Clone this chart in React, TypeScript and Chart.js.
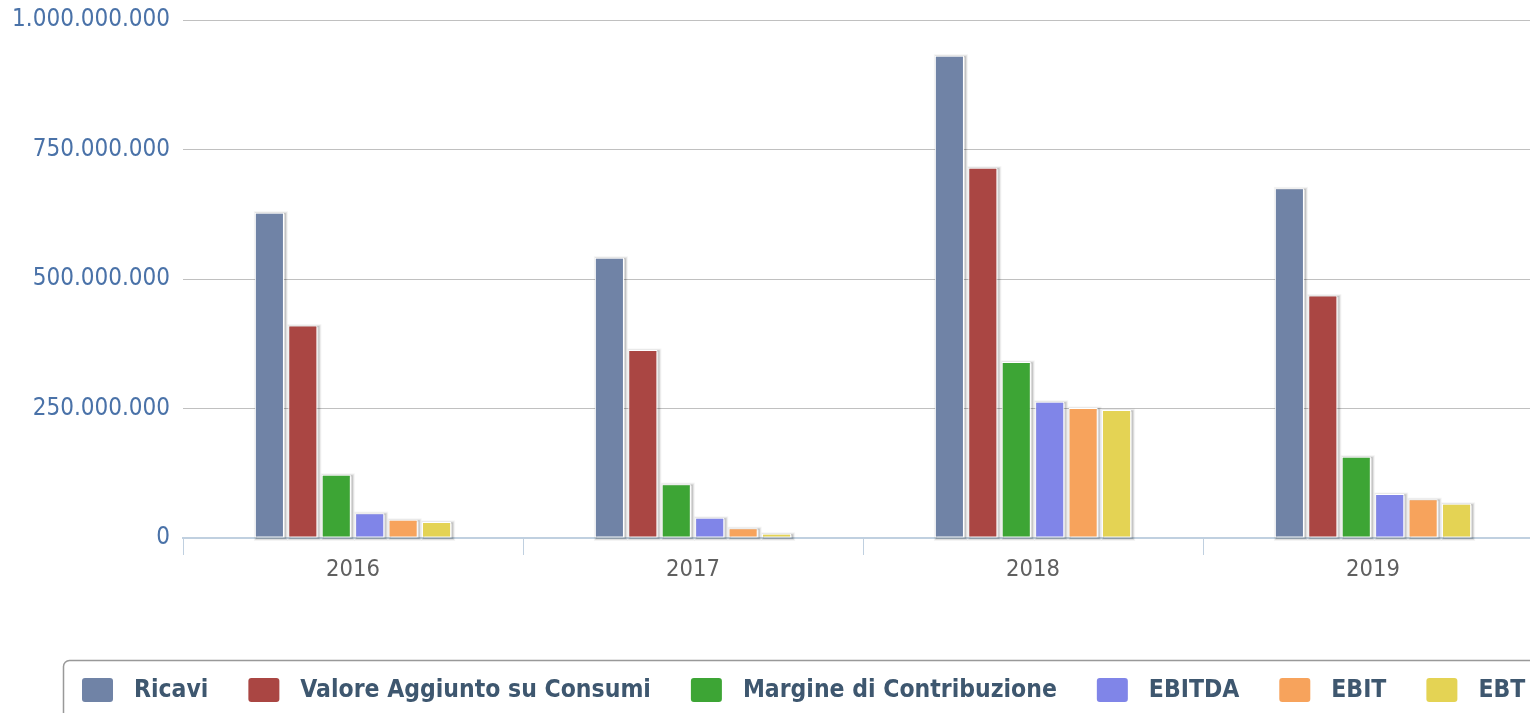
import React, { useEffect, useRef } from 'react';
import { Chart, registerables } from 'chart.js';

Chart.register(...registerables);

const categories = ['2016', '2017', '2018', '2019'];
const seriesNames = [
  'Ricavi',
  'Valore Aggiunto su Consumi',
  'Margine di Contribuzione',
  'EBITDA',
  'EBIT',
  'EBT',
];
const ricavi = [628e6, 541e6, 931e6, 675e6];
const valoreAggiunto = [410e6, 363e6, 715e6, 468e6];
const margineContribuzione = [122e6, 104e6, 340e6, 157e6];
const ebitda = [48e6, 39e6, 263e6, 85e6];
const ebit = [35e6, 19e6, 251e6, 75e6];
const ebt = [31e6, 8e6, 247e6, 66e6];
const seriesColors = ['#7083A6', '#AA4643', '#3DA535', '#8085E8', '#F7A35C', '#E4D354'];
const yMax = 1000000000;
const yStep = 250000000;

const formatIt = (v: number) =>
  String(Math.round(v)).replace(/\B(?=(\d{3})+(?!\d))/g, '.');

const FONT = '"DejaVu Sans Condensed", "DejaVu Sans", Verdana, sans-serif';

function roundRectPath(ctx: CanvasRenderingContext2D, x: number, y: number, w: number, h: number, r: number) {
  ctx.beginPath();
  ctx.moveTo(x + r, y);
  ctx.lineTo(x + w - r, y);
  ctx.arcTo(x + w, y, x + w, y + r, r);
  ctx.lineTo(x + w, y + h - r);
  ctx.arcTo(x + w, y + h, x + w - r, y + h, r);
  ctx.lineTo(x + r, y + h);
  ctx.arcTo(x, y + h, x, y + h - r, r);
  ctx.lineTo(x, y + r);
  ctx.arcTo(x, y, x + r, y, r);
  ctx.closePath();
}

const shadowPlugin = {
  id: 'barShadow',
  beforeDatasetsDraw(chart: any) {
    const ctx = chart.ctx as CanvasRenderingContext2D;
    ctx.save();
    chart.data.datasets.forEach((_: any, di: number) => {
      const meta = chart.getDatasetMeta(di);
      meta.data.forEach((el: any) => {
        const p = el.getProps(['x', 'y', 'base', 'width'], true);
        const left = p.x - p.width / 2;
        const top = Math.min(p.y, p.base);
        const h = Math.abs(p.base - p.y);
        for (let i = 1; i <= 3; i++) {
          ctx.strokeStyle = `rgba(0,0,0,${0.045 * i})`;
          ctx.lineWidth = 7 - 2 * i;
          ctx.strokeRect(left + 1.5, top + 1, p.width, h);
        }
      });
    });
    ctx.restore();
  },
};

const legendPlugin = {
  id: 'boxLegend',
  afterDraw(chart: any) {
    const ctx = chart.ctx as CanvasRenderingContext2D;
    const area = chart.chartArea;
    ctx.save();
    ctx.font = `bold 24.5px ${FONT}`;
    const swW = 31;
    const swH = 24;
    const gapText = 21;
    const gapItem = 40;
    const boxLeft = 55;
    const boxTop = area.bottom + 122;
    const boxH = 62;
    const startX = 74;
    const cy = boxTop + 30;
    const items = chart.data.datasets.map((ds: any) => ({
      label: ds.label as string,
      color: ds.backgroundColor as string,
    }));
    let total = 0;
    items.forEach((it: any, i: number) => {
      total += swW + gapText + ctx.measureText(it.label).width;
      if (i < items.length - 1) total += gapItem;
    });
    const boxRight = startX + total + 18;
    roundRectPath(ctx, boxLeft + 0.5, boxTop + 0.5, boxRight - boxLeft, boxH, 6);
    ctx.strokeStyle = '#999999';
    ctx.lineWidth = 1.5;
    ctx.stroke();
    let x = startX;
    ctx.textBaseline = 'middle';
    ctx.textAlign = 'left';
    items.forEach((it: any) => {
      roundRectPath(ctx, x, cy - swH / 2, swW, swH, 3);
      ctx.fillStyle = it.color;
      ctx.fill();
      ctx.fillStyle = '#3E576F';
      const tx = x + swW + gapText;
      ctx.fillText(it.label, tx, cy + 1);
      x = tx + ctx.measureText(it.label).width + gapItem;
    });
    ctx.restore();
  },
};

export default function App() {
  const canvasRef = useRef<HTMLCanvasElement | null>(null);

  useEffect(() => {
    if (!canvasRef.current) return;
    const values = [ricavi, valoreAggiunto, margineContribuzione, ebitda, ebit, ebt];
    const chart = new Chart(canvasRef.current, {
      type: 'bar',
      data: {
        labels: categories,
        datasets: seriesNames.map((name, i) => ({
          label: name,
          data: values[i],
          backgroundColor: seriesColors[i],
          borderColor: '#ffffff',
          borderWidth: 1,
          borderSkipped: false,
          categoryPercentage: 0.59,
          barPercentage: 0.87,
        })),
      },
      options: {
        responsive: true,
        maintainAspectRatio: false,
        animation: false,
        layout: { padding: { top: 12, right: 65, bottom: 150, left: 0 } },
        plugins: {
          legend: { display: false },
          tooltip: { enabled: false },
          title: { display: false },
        },
        scales: {
          x: {
            offset: true,
            grid: {
              display: true,
              drawOnChartArea: false,
              drawTicks: true,
              tickLength: 17,
              color: '#C0D0E0',
              lineWidth: 1,
              offset: true,
            },
            border: { display: true, color: '#C0D0E0', width: 2 },
            ticks: {
              color: '#606060',
              font: { family: FONT, size: 23.5 },
              padding: 1,
            },
            afterFit: (scale: any) => {
              scale.height = 60;
              scale.paddingLeft = 0;
              scale.paddingRight = 0;
            },
          },
          y: {
            min: 0,
            max: yMax,
            grid: {
              drawTicks: false,
              color: (c: any) => (c.index === 0 ? 'rgba(0,0,0,0)' : '#C0C0C0'),
              lineWidth: 1,
            },
            border: { display: false },
            ticks: {
              stepSize: yStep,
              color: '#4A72A8',
              font: { family: FONT, size: 24 },
              padding: 13,
              callback: (v: any) => formatIt(Number(v)),
            },
            afterFit: (scale: any) => {
              scale.width = 175;
              scale.paddingTop = 0;
              scale.paddingBottom = 0;
            },
          },
        },
      },
      plugins: [shadowPlugin, legendPlugin],
    });
    return () => chart.destroy();
  }, []);

  return (
    <div style={{ position: 'fixed', left: 0, top: 0, width: '100vw', height: '100vh', overflow: 'hidden', background: '#fff' }}>
      <div style={{ position: 'absolute', left: 8, top: 8, width: 1600, height: 740 }}>
        <canvas ref={canvasRef} />
      </div>
    </div>
  );
}
